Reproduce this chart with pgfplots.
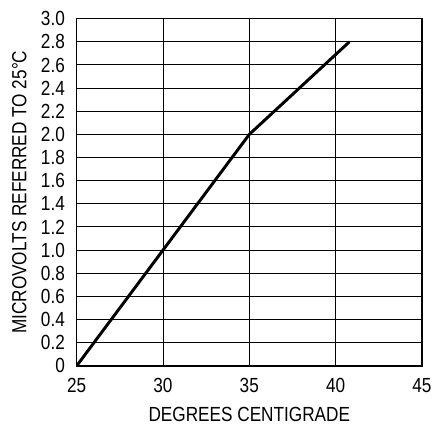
\documentclass[border=0pt]{standalone}
\usepackage{fontspec}
\setmainfont{Liberation Sans}[FakeStretch=0.84]
\usepackage{pgfplots}
\pgfplotsset{compat=1.18}
\begin{document}
\begin{tikzpicture}
\begin{axis}[
  width=175.5pt, height=176.5pt, scale only axis,
  xmin=25, xmax=45, ymin=0, ymax=3,
  xtick={25,30,...,45},
  ytick={0,0.2,...,3.01},
  yticklabels={0,0.2,0.4,0.6,0.8,1.0,1.2,1.4,1.6,1.8,2.0,2.2,2.4,2.6,2.8,3.0},
  /pgf/number format/assume math mode=true,
  tick style={draw=none},
  grid=major,
  major grid style={black, line width=0.5pt},
  axis line style={black, line width=0.8pt},
  font=\fontsize{10.4}{12}\selectfont,
  xticklabel style={yshift=-3pt},
  yticklabel style={xshift=-2.5pt},
  xlabel={DEGREES CENTIGRADE},
  ylabel={MICROVOLTS REFERRED TO 25°C},
  xlabel style={yshift=-0.5pt},
  ylabel style={yshift=0.5pt},
]
\addplot[black, line width=1.5pt] coordinates {
  (25,0) (30,1.0) (35,2.0) (40.8,2.8)
};
\end{axis}
\path (current axis.south west) ++(-39pt,-25.5pt) rectangle ++(219pt,211.5pt);
\end{tikzpicture}
\end{document}
